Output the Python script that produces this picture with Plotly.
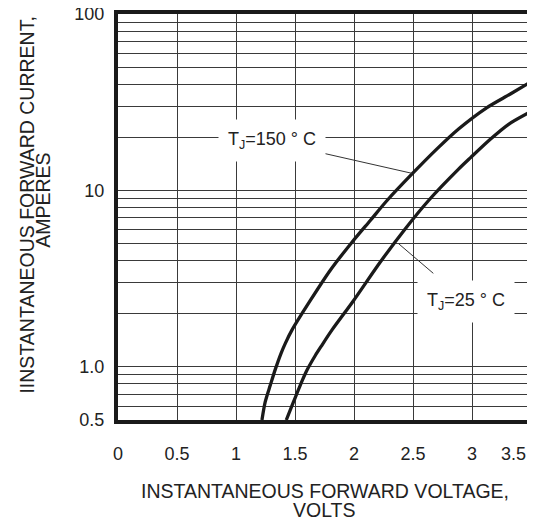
import plotly.graph_objects as go
import math

# Data (volts, amperes)
v_150 = [1.220, 1.248, 1.291, 1.333, 1.381, 1.418, 1.475, 1.630, 1.799, 1.983, 2.138,
         2.280, 2.492, 2.703, 2.886, 3.127, 3.325, 3.5]
i_150 = [0.5, 0.635, 0.789, 0.968, 1.19, 1.36, 1.62, 2.38, 3.53, 5.09, 6.76,
         8.77, 12.4, 17.2, 22.3, 29.5, 35.2, 41.3]
v_25 = [1.426, 1.488, 1.545, 1.602, 1.672, 1.729, 1.814, 1.997, 2.223, 2.435,
        2.632, 2.886, 2.986, 3.155, 3.310, 3.5]
i_25 = [0.5, 0.635, 0.789, 0.959, 1.16, 1.33, 1.62, 2.38, 3.93, 6.07,
        8.77, 13.2, 15.3, 19.5, 23.7, 28.0]

x_ticks = [0, 0.5, 1, 1.5, 2, 2.5, 3, 3.5]
x_labels = ["0", "0.5", "1", "1.5", "2", "2.5", "3", "3.5"]
y_grid = [0.5, 0.6, 0.7, 0.8, 0.9, 1, 2, 3, 4, 5, 6, 7, 8, 9, 10,
          20, 30, 40, 50, 60, 70, 80, 90, 100]
y_labels = {0.5: "0.5", 1: "1.0", 10: "10", 100: "100"}

# Curve labels: (volts, amperes) of label centre
label_150 = (1.303, 19.1)
label_25 = (2.952, 2.36)
# Leader lines (volts, amperes)
lead_150_v = [1.714, 2.492]
lead_150_i = [16.4, 12.5]
lead_25_v = [2.672, 2.375]
lead_25_i = [3.39, 5.01]

FONT = "Arial, Liberation Sans, sans-serif"
TXT = "#222"
NBSP = "\u00a0"

fig = go.Figure()
for vx, iy in [(v_150, i_150), (v_25, i_25)]:
    fig.add_trace(go.Scatter(x=vx, y=iy, mode="lines",
                             line=dict(color="#1a1a1a", width=3.3, shape="spline", smoothing=0.8),
                             hoverinfo="skip", showlegend=False))
for vx, iy in [(lead_150_v, lead_150_i), (lead_25_v, lead_25_i)]:
    fig.add_trace(go.Scatter(x=vx, y=iy, mode="lines",
                             line=dict(color="#333", width=1),
                             hoverinfo="skip", showlegend=False))

for (lv, li), txt in [(label_150, "T<sub>J</sub>=150 ° C"), (label_25, "T<sub>J</sub>=25 ° C")]:
    fig.add_annotation(x=lv, y=math.log10(li), xref="x", yref="y",
                       text=txt, showarrow=False,
                       font=dict(family=FONT, size=18, color=TXT),
                       bgcolor="white", borderpad=9)

# Axis titles (two tightly spaced lines each)
fig.add_annotation(x=0.501, y=-0.175, xref="paper", yref="paper", showarrow=False,
                   text="INSTANTANEOUS FORWARD VOLTAGE,", xanchor="center", yanchor="middle",
                   font=dict(family=FONT, size=19.5, color=TXT))
fig.add_annotation(x=0.501, y=-0.221, xref="paper", yref="paper", showarrow=False,
                   text="VOLTS", xanchor="center", yanchor="middle",
                   font=dict(family=FONT, size=19.5, color=TXT))
fig.add_annotation(x=-0.221, y=0.530, xref="paper", yref="paper", showarrow=False,
                   text="IINSTANTANEOUS FORWARD CURRENT,", textangle=-90,
                   xanchor="center", yanchor="middle",
                   font=dict(family=FONT, size=19.5, color=TXT))
fig.add_annotation(x=-0.182, y=0.542, xref="paper", yref="paper", showarrow=False,
                   text="AMPERES", textangle=-90,
                   xanchor="center", yanchor="middle",
                   font=dict(family=FONT, size=19.5, color=TXT))

# The page body has an 8px default margin, so the figure is 8px smaller
fig.update_layout(
    width=527, height=512,
    margin=dict(l=110, r=4, t=6, b=100, autoexpand=False),
    paper_bgcolor="white", plot_bgcolor="white",
    font=dict(family=FONT, size=18, color=TXT),
)
# last label nudged left (as in the reference) so it stays inside the page
tick_text = x_labels[:-1] + [x_labels[-1] + NBSP * 7]
fig.update_xaxes(
    range=[0, 3.5], tickvals=x_ticks, ticktext=tick_text,
    showgrid=True, gridcolor="#3a3a3a", gridwidth=1.2,
    showline=True, linecolor="#1a1a1a", linewidth=4, mirror=True,
    ticks="", ticklabelstandoff=14, ticklabeloverflow="allow", zeroline=False,
    automargin=False,
)
fig.update_yaxes(
    type="log", range=[math.log10(0.5), 2],
    tickvals=y_grid, ticktext=[y_labels.get(v, "") for v in y_grid],
    showgrid=True, gridcolor="#3a3a3a", gridwidth=1.2,
    showline=True, linecolor="#1a1a1a", linewidth=4, mirror=True,
    ticks="", ticklabelstandoff=6, ticklabeloverflow="allow", zeroline=False,
    automargin=False,
)

fig.write_html("out.html")
